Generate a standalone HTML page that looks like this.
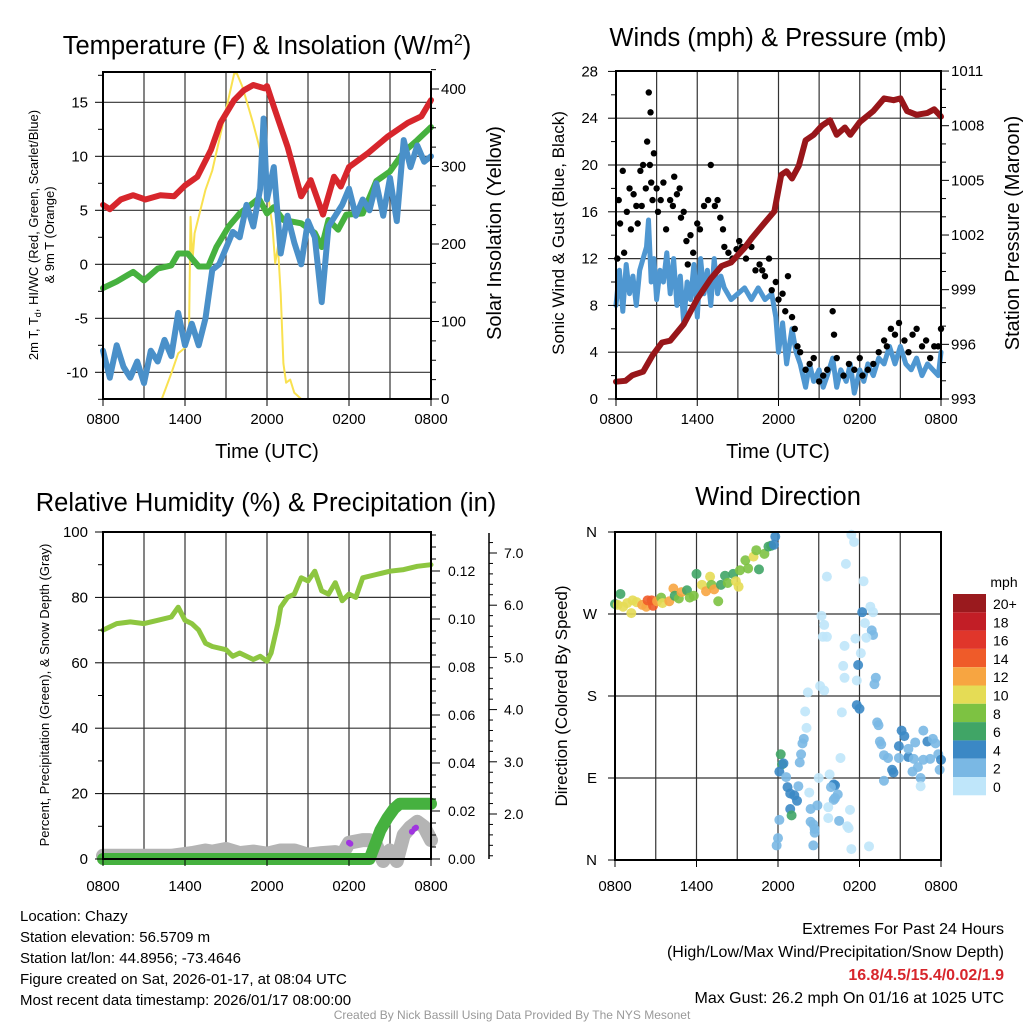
<!DOCTYPE html>
<html><head><meta charset="utf-8"><style>
html,body{margin:0;padding:0;background:#fff;}
svg{display:block;font-family:"Liberation Sans",Arial,sans-serif;}
</style></head><body>
<svg id="chart" width="1024" height="1024" viewBox="0 0 1024 1024" xmlns="http://www.w3.org/2000/svg"></svg>
<script>
// ===== Panel 1 data (hours since 0800 UTC) =====
const tempHours=[0,0.5,1.3,2.2,3.1,4.2,5.2,6,6.9,7.9,8.6,9.6,10.3,11,11.8,12,12.5,13.5,14.5,15.2,16.1,16.9,17.4,18,19.4,20.8,22.3,23.3,24];
const tempVals=[5.5,5.1,6.0,6.4,6.0,6.4,6.3,7.3,8.1,10.6,13.1,15.2,16.1,16.6,16.3,16.5,14.6,10.9,6.3,7.8,4.6,8.1,7.2,9.0,10.3,11.8,13.1,13.7,15.2];
const dewHours=[0,1,2.2,3,4,5,5.5,6.2,7,7.7,8.3,9.2,10,11.4,12,12.5,13.2,14.5,15.5,16,16.5,17.2,17.8,19,20,21,22,23,24];
const dewVals=[-2.2,-1.6,-0.7,-1.5,-0.4,-0.1,1.0,1.0,-0.2,-0.2,1.6,3.5,4.7,6.1,4.7,5.3,4.1,3.8,2.9,1.6,4.1,3.2,4.6,4.7,7.7,8.6,10.4,11.5,12.7];
const wcHours=[0,0.5,1,1.5,2,2.5,3,3.5,4,4.5,5,5.5,6,6.5,7,7.5,8,8.5,9,9.5,10,10.5,11,11.5,11.75,12,12.5,13,13.5,14,14.5,15,15.5,16,16.5,17,17.5,18,18.5,19,19.5,20,20.5,21,21.5,22,22.5,23,23.5,24];
const wcVals=[-8,-10.5,-7.5,-9.5,-10.5,-9,-11,-8,-9,-7,-8.5,-4.5,-7.5,-5.5,-7.5,-5,-0.5,0,1.5,3,2.5,5.5,3.5,7,13.5,6,9,1,4.5,2,0,4,2.5,-3.5,3.5,4.5,5.5,7,4.5,6,5,7.5,4.5,8,4,11.5,9,11,9.5,10];
const solHours=[0,4.3,5,5.5,6,6.3,6.4,6.55,6.7,7,7.5,8,8.5,9,9.6,9.8,10.2,11,11.5,12,12.4,12.6,12.8,13,13.2,13.4,13.7,14,14.5,24];
const solVals=[0,0,33,59,66,94,235,179,214,235,270,295,334,373,420,420,403,355,321,274,222,175,197,136,46,21,25,8,0,0];
const p1XTicks=["0800","1400","2000","0200","0800"];
const p1LeftTicks=[-10,-5,0,5,10,15];
const p1RightTicks=[0,100,200,300,400];
// ===== Panel 2 data =====
const presHours=[0,0.7,1.2,2,2.7,3.4,4,5,6,7,7.8,8.5,9,9.5,10,11,11.7,12.2,12.6,13,13.5,14,14.6,15.2,15.8,16.3,16.9,17.3,18,19,19.8,20.5,21,21.5,22.2,23,23.5,24];
const presVals=[993.95,994,994.3,994.5,995.4,996.1,996.2,997.1,998.5,999.6,1000.3,1000.5,1000.9,1001.3,1001.8,1002.7,1003.3,1005.3,1005.5,1005.1,1005.8,1007.2,1007.5,1008.0,1008.3,1007.5,1007.9,1007.5,1008.2,1008.8,1009.5,1009.4,1009.5,1008.8,1008.6,1008.7,1008.9,1008.5];
const windHours=[0,0.25,0.5,0.75,1,1.25,1.5,1.75,2,2.25,2.4,2.6,2.8,3,3.25,3.5,3.75,4,4.25,4.5,4.75,5,5.25,5.5,5.75,6,6.25,6.5,6.75,7,7.25,7.5,7.75,8,8.5,9,9.5,10,10.5,11,11.5,11.8,12,12.3,12.6,13,13.3,13.6,14,14.3,14.6,15,15.3,15.6,16,16.3,16.6,17,17.3,17.6,18,18.3,18.6,19,19.4,19.8,20.2,20.6,21,21.4,21.8,22.2,22.6,23,23.4,23.8,24];
const windVals=[8,11,7.5,11.5,9,10.5,8,11,12,13,15.3,10,12,8.5,11,10,12.5,9,12,8,10.5,6.5,10,8.5,11.5,7,12,9,11,8,12,9,10.5,9.5,8.5,9,9.5,8.5,9.5,8.5,9,7,4,6.5,3,6,4,3,1,3,1.5,2.5,1,2,3.5,1,2.5,1.5,3,0.5,2.5,1.5,3,2,3.5,3,4.5,3,4.5,3,2.5,3.5,2,3,2.5,2,4];
const gustHours=[0.1,0.2,0.3,0.5,0.6,0.8,1.0,1.1,1.3,1.5,1.6,1.8,1.9,2.0,2.2,2.3,2.42,2.5,2.55,2.6,2.7,2.8,3.0,3.1,3.3,3.5,3.7,4.0,4.2,4.3,4.5,4.7,4.8,5.0,5.2,5.3,5.5,5.7,6.0,6.2,6.5,6.8,7.0,7.3,7.5,7.7,7.9,8.0,8.3,8.6,8.9,9.1,9.3,9.6,10.0,10.3,10.6,10.8,11.0,11.3,11.5,11.8,12.0,12.3,12.5,12.7,13.0,13.2,13.4,13.6,14.0,14.3,14.6,15.0,15.3,15.6,16.0,16.1,16.3,16.8,17.2,17.6,18.0,18.2,18.6,19.0,19.4,19.8,20.0,20.3,20.6,20.9,21.3,21.6,21.9,22.2,22.6,22.9,23.2,23.5,23.8,24.0];
const gustVals=[12,17,15,19.5,12.5,16,18,14.5,17.5,16.5,15,19.5,16.5,20,18,22,26.2,20,24.5,18.5,17,21,18,16,17,18.5,14.5,17,16.5,19,17.5,18,15.5,16,13.5,11.5,14,12.5,15,14.5,16.5,17,20,16.5,17,15.5,14.5,13,12.5,12,12.8,13.5,13,12,13,11,11.5,11,10.5,12,9.3,10,8.5,9,7.5,10.5,7,6,4.5,4,2.5,3,3.5,1.5,2,2.5,7.5,5.5,3.5,2,3,2.5,3.5,2,2.5,3,4,5,4.5,6,5.5,6.5,5,4,5.5,6,4.5,5,3.5,4.5,4.5,6];
const p2LeftTicks=[0,4,8,12,16,20,24,28];
const p2RightTicks=[993,996,999,1002,1005,1008,1011];
// ===== Panel 3 data =====
const rhHours=[0,1,2,3,4,5,5.5,6,6.5,7,7.5,8,9,9.5,10,11,11.5,12,12.3,12.8,13,13.5,14,14.5,15,15.5,16,16.5,17,17.5,18,18.5,19,20,21,22,23,24];
const rhVals=[70,72,72.5,72,73,74,77,73,72,70,66,65,64,62,63,61,62,60.5,63,72,77,80,81,86,85,88,82,81,84.5,79,81,80,86,87,88,88.5,89.5,90];
const precipHours=[0,19.5,19.9,20.3,20.8,21.3,21.7,24];
const precipVals=[0,0,0.006,0.012,0.017,0.021,0.023,0.023];
const snowHours=[0,5,6.5,7.5,8,9,10,11,12,13,14,15,16,17,17.5,18,19,19.5,20,20.5,21,21.5,22,22.5,23,23.5,24];
const snowVals=[1.2,1.2,1.25,1.3,1.28,1.33,1.25,1.28,1.24,1.3,1.3,1.22,1.25,1.27,1.22,1.45,1.5,1.5,1.4,1.1,1.3,1.1,1.6,1.75,1.85,1.75,1.5];
const extraHours=[18,18.1,22.6,22.8,22.9];
const extraVals=[1.45,1.43,1.66,1.72,1.74];
const p3LeftTicks=[0,20,40,60,80,100];
const p3PrecipTicks=[0,0.02,0.04,0.06,0.08,0.10,0.12];
const p3SnowTicks=[2,3,4,5,6,7];
// ===== Panel 4 data =====
const dirHours=[0,0.4,0.2,0.6,0.9,1.2,1.3,1.6,2.0,2.3,2.4,2.7,2.8,3.1,3.4,3.5,4.0,4.3,4.4,4.7,4.9,5.3,5.5,5.8,6.0,6.4,6.7,7.0,7.1,7.3,7.6,7.8,8.1,8.3,8.7,8.9,9.1,9.2,9.6,9.8,10.2,10.4,10.6,11.0,11.3,11.5,11.8,11.7,
17.4,17.6,17.0,15.6,18.3,18.8,19.0,18.2,15.2,15.4,15.3,15.6,18.4,18.9,19.0,18.5,17.7,16.9,18.1,17.9,16.8,16.9,17.8,19.2,19.1,15.1,15.4,14.2,17.8,18.0,14.0,16.7,14.1,19.3,19.4,13.9,13.8,19.5,19.6,21.1,21.3,20.9,21.6,22.7,23.0,23.4,23.6,19.8,20.1,20.9,20.4,20.5,22.1,21.6,22.0,22.7,23.2,23.8,24.0,23.9,21.9,22.3,22.5,22.5,19.8,13.7,13.6,12.2,12.3,12.4,12.1,12.6,16.6,15.0,15.8,13.5,12.7,12.9,13.2,13.4,14.3,16.2,16.1,15.9,16.4,16.2,16.1,14.9,12.9,13.0,14.4,15.7,17.3,15.7,12.1,14.4,14.6,14.7,14.7,16.5,17.1,17.2,12.0,11.9,14.6,17.4,18.7];
const dirVals=[281,292,280,278,282,271,285,283,280,278,285,285,279,284,288,282,284,298,290,287,294,296,288,290,314,302,295,311,302,297,284,302,312,304,314,306,300,318,329,320,333,340,319,336,344,345,355,346,
357,349,325,311,306,278,272,272,268,258,245,245,260,252,247,244,243,235,227,214,213,200,197,200,193,191,186,184,170,166,163,162,145,151,148,133,128,130,127,142,136,125,113,142,130,133,128,115,112,112,99,96,129,122,111,110,111,116,110,99,97,102,90,81,87,116,107,116,105,106,97,91,112,90,94,81,80,73,71,65,74,82,83,80,72,68,66,60,56,49,56,58,55,46,44,42,39,34,30,43,37,35,24,16,16,12,15];
const dirSpeeds=[6,6,10,10,10,10,10,10,12,12,14,14,14,12,8,10,12,12,6,8,12,6,8,8,6,10,12,10,8,12,8,6,6,8,6,10,10,8,8,8,10,8,6,8,6,6,4,4,
0,0,0,0,0,0,0,3,0,0,0,0,0,2,2,0,0,0,0,4,0,0,0,2,2,0,0,0,3,3,0,0,0,2,2,2,2,2,2,4,3,4,4,2,3,2,2,2,2,2,4,4,2,2,2,2,2,2,4,2,2,2,2,0,2,2,2,6,6,4,4,2,0,0,0,2,4,3,3,3,0,4,3,2,2,2,2,2,4,6,2,0,0,0,2,2,2,2,2,2,0,0,2,2,2,0,0];
const speedLabels=["20+","18","16","14","12","10","8","6","4","2","0"];
const dirLabels=["N","E","S","W","N"];
</script>
<script>
const svg=document.getElementById('chart');
const NS='http://www.w3.org/2000/svg';
function mk(tag,attrs,parent){const e=document.createElementNS(NS,tag);for(const k in attrs)e.setAttribute(k,attrs[k]);(parent||svg).appendChild(e);return e;}
function txt(s,x,y,size,anchor,extra,parent){const t=mk('text',Object.assign({x:x,y:y,'font-size':size,'text-anchor':anchor||'middle',fill:'#000'},extra||{}),parent);t.textContent=s;return t;}
function path(xs,ys,fx,fy,attrs,parent){let d='';for(let i=0;i<xs.length;i++){d+=(i?'L':'M')+fx(xs[i]).toFixed(1)+','+fy(ys[i]).toFixed(1);}return mk('path',Object.assign({d:d,fill:'none','stroke-linejoin':'round','stroke-linecap':'round'},attrs),parent);}

function grid(g,x0,x1,y0,y1,xs,ys){
  xs.forEach(x=>{const l=mk('line',{x1:x,x2:x,y1:y0,y2:y1,stroke:'#333','stroke-width':1.2},g);});
  ys.forEach(y=>{const l=mk('line',{x1:x0,x2:x1,y1:y,y2:y,stroke:'#333','stroke-width':1.2},g);});
}
function frame(g,x0,x1,y0,y1){const r=mk('rect',{x:x0,y:y0,width:x1-x0,height:y1-y0,fill:'none',stroke:'#000','stroke-width':2},g);}

// ================= PANEL 1 =================
{
const g=mk('g',{});
const X0=103,X1=431,Y0=72,Y1=399;
const x=h=>X0+h*(X1-X0)/24, yT=v=>264.3-v*10.8, yS=v=>399-v*0.775;
const vx=[];for(let h=3;h<24;h+=3)vx.push(x(h));
grid(g,X0,X1,Y0,Y1,vx,p1LeftTicks.map(yT));
const sol=path(solHours,solVals,x,yS,{stroke:'#f9e150','stroke-width':2},g);
const dew=path(dewHours,dewVals,x,yT,{stroke:'#46b13f','stroke-width':6},g);
const wc=path(wcHours,wcVals,x,yT,{stroke:'#4a90c9','stroke-width':6},g);
const tl=path(tempHours,tempVals,x,yT,{stroke:'#d7262c','stroke-width':6},g);
frame(g,X0,X1,Y0,Y1);
for(let v=-12.5;v<=17.5;v+=2.5){const l=mk('line',{x1:X0-(v%5===0?8:5),x2:X0,y1:yT(v),y2:yT(v),stroke:'#000','stroke-width':1},g);}
p1LeftTicks.forEach(v=>{const t=txt(String(v),88,yT(v)+5,15,'end',{},g);});
for(let v=0;v<=425;v+=25){const l=mk('line',{x1:X1,x2:X1+(v%100===0?8:5),y1:yS(v),y2:yS(v),stroke:'#000','stroke-width':1},g);}
p1RightTicks.forEach(v=>{const t=txt(String(v),441,yS(v)+5,15,'start',{},g);});
p1XTicks.forEach((s,i)=>{const h=i*6;const l=mk('line',{x1:x(h),x2:x(h),y1:Y1,y2:Y1+7,stroke:'#000'},g);const t=txt(s,x(h),424,15,'middle',{},g);});
const ti=txt('',267,54,25.5,'middle',{},g);
ti.innerHTML='Temperature (F) &amp; Insolation (W/m<tspan dy="-9" font-size="16">2</tspan><tspan dy="9">)</tspan>';
const xl=txt('Time (UTC)',267,458,20,'middle',{},g);
const yl=txt('',0,0,13,'middle',{transform:'translate(38,235) rotate(-90)'},g);
yl.innerHTML='2m T, T<tspan dy="3" font-size="9">d</tspan><tspan dy="-3">, HI/WC (Red, Green, Scarlet/Blue)</tspan>';
const yl2=txt('& 9m T (Orange)',0,0,13,'middle',{transform:'translate(54,235) rotate(-90)'},g);
const yr=txt('Solar Insolation (Yellow)',0,0,20,'middle',{transform:'translate(501,233) rotate(-90)'},g);
}
// ================= PANEL 2 =================
{
const g=mk('g',{});
const X0=616,X1=941,Y0=71,Y1=399;
const x=h=>X0+h*(X1-X0)/24, yW=v=>399-v*11.7, yP=v=>399-(v-993)*18.22;
const vx=[];for(let h=3;h<24;h+=3)vx.push(x(h));
grid(g,X0,X1,Y0,Y1,vx,p2LeftTicks.map(yW));
const wl=path(windHours,windVals,x,yW,{stroke:'#4f97d1','stroke-width':5},g);
gustHours.forEach((h,i)=>{const c=mk('circle',{cx:x(h),cy:yW(gustVals[i]),r:3.2,fill:'#000'},g);});
const pl=path(presHours,presVals,x,yP,{stroke:'#98161a','stroke-width':6},g);
frame(g,X0,X1,Y0,Y1);
for(let v=0;v<=28;v+=2){const l=mk('line',{x1:X0-(v%4===0?8:5),x2:X0,y1:yW(v),y2:yW(v),stroke:'#000'},g);}
p2LeftTicks.forEach(v=>{const t=txt(String(v),598,yW(v)+5,15,'end',{},g);});
for(let v=993;v<=1011;v+=1){const l=mk('line',{x1:X1,x2:X1+(v%3===0?8:5),y1:yP(v),y2:yP(v),stroke:'#000'},g);}
p2RightTicks.forEach(v=>{const t=txt(String(v),951,yP(v)+5,15,'start',{},g);});
p1XTicks.forEach((s,i)=>{const h=i*6;const l=mk('line',{x1:x(h),x2:x(h),y1:Y1,y2:Y1+7,stroke:'#000'},g);const t=txt(s,x(h),424,15,'middle',{},g);});
const ti=txt('Winds (mph) & Pressure (mb)',778,46,25.5,'middle',{},g);
const xl=txt('Time (UTC)',778,458,20,'middle',{},g);
const yl=txt('Sonic Wind & Gust (Blue, Black)',0,0,17,'middle',{transform:'translate(564,233) rotate(-90)'},g);
const yr=txt('Station Pressure (Maroon)',0,0,20,'middle',{transform:'translate(1019,233) rotate(-90)'},g);
}
// ================= PANEL 3 =================
{
const g=mk('g',{});
const X0=103,X1=431,Y0=532,Y1=859;
const x=h=>X0+h*(X1-X0)/24, yR=v=>859-v*3.27, yPr=v=>859-v*2400, yS=v=>814-(v-2)*52.2;
const vx=[];for(let h=3;h<24;h+=3)vx.push(x(h));
grid(g,X0,X1,Y0,Y1,vx,p3LeftTicks.map(yR));
const sd=path(snowHours,snowVals,x,yS,{stroke:'#b4b4b4','stroke-width':14},g);
extraHours.forEach((h,i)=>{const c=mk('circle',{cx:x(h),cy:yS(extraVals[i]),r:3,fill:'#a035e0'},g);});
const pr=path(precipHours,precipVals,x,yPr,{stroke:'#46b13f','stroke-width':12},g);
const rh=path(rhHours,rhVals,x,yR,{stroke:'#8dc640','stroke-width':5},g);
frame(g,X0,X1,Y0,Y1);
for(let v=0;v<=100;v+=10){const l=mk('line',{x1:X0-(v%20===0?8:5),x2:X0,y1:yR(v),y2:yR(v),stroke:'#000'},g);}
p3LeftTicks.forEach(v=>{const t=txt(String(v),88,yR(v)+5,15,'end',{},g);});
for(let v=0;v<=0.1351;v+=0.005){const maj=Math.abs(v/0.02-Math.round(v/0.02))<1e-6;const l=mk('line',{x1:X1,x2:X1+(maj?9:5),y1:yPr(v),y2:yPr(v),stroke:'#000'},g);}
p3PrecipTicks.forEach(v=>{const t=txt(v.toFixed(2),448,yPr(v)+5,14,'start',{},g);});
const ax=mk('line',{x1:489,x2:489,y1:533,y2:859,stroke:'#000','stroke-width':1.5},g);
for(let v=1.2;v<=7.3;v+=0.2){const maj=Math.abs(v-Math.round(v))<1e-6;const l=mk('line',{x1:489,x2:489+(maj?8:4),y1:yS(v),y2:yS(v),stroke:'#000'},g);}
p3SnowTicks.forEach(v=>{const t=txt(v.toFixed(1),504,yS(v)+5,14,'start',{},g);});
p1XTicks.forEach((s,i)=>{const h=i*6;const l=mk('line',{x1:x(h),x2:x(h),y1:Y1,y2:Y1+7,stroke:'#000'},g);const t=txt(s,x(h),891,15,'middle',{},g);});
const ti=txt('Relative Humidity (%) & Precipitation (in)',266,511,25.5,'middle',{},g);
const yl=txt('Percent, Precipitation (Green), & Snow Depth (Gray)',0,0,13,'middle',{transform:'translate(49,695) rotate(-90)'},g);
}
// ================= PANEL 4 =================
{
const g=mk('g',{});
const X0=615,X1=941,Y0=532,Y1=860;
const x=h=>X0+h*(X1-X0)/24, yD=d=>Y1-d*(Y1-Y0)/360;
const colors=['#bfe6fa','#7ab8e4','#3b88c5','#40a566','#7dc242','#e5dc55','#f7a541','#ef5b29','#e0362b','#c21e26','#9a1a1e'];
const ci=s=>Math.min(10,Math.max(0,Math.round(s/2)));
const vx=[];for(let h=3;h<24;h+=3)vx.push(x(h));
grid(g,X0,X1,Y0,Y1,vx,[90,180,270].map(yD));
dirHours.forEach((h,i)=>{const c=mk('circle',{cx:x(h),cy:yD(dirVals[i]),r:5,fill:colors[ci(dirSpeeds[i])],'fill-opacity':0.9},g);});
frame(g,X0,X1,Y0,Y1);
[0,90,180,270,360].forEach((d,i)=>{const l=mk('line',{x1:X0-7,x2:X0,y1:yD(d),y2:yD(d),stroke:'#000'},g);const t=txt(dirLabels[i],597,yD(d)+5,15,'end',{},g);});
p1XTicks.forEach((s,i)=>{const h=i*6;const l=mk('line',{x1:x(h),x2:x(h),y1:Y1,y2:Y1+7,stroke:'#000'},g);const t=txt(s,x(h),891,15,'middle',{},g);});
const ti=txt('Wind Direction',778,505,25.5,'middle',{},g);
const yl=txt('Direction (Colored By Speed)',0,0,17,'middle',{transform:'translate(567,696) rotate(-90)'},g);
const lg=mk('g',{},g);
const mt=txt('mph',1004,587,14,'middle',{},lg);
speedLabels.forEach((s,i)=>{const y=594+i*18.3;const r=mk('rect',{x:953,y:y,width:33,height:18.3,fill:colors[10-i]},lg);const t=txt(s,993,y+15,14,'start',{},lg);});
}
// ================= FOOTER =================
{
const g=mk('g',{});
const left=['Location: Chazy','Station elevation: 56.5709 m','Station lat/lon: 44.8956; -73.4646','Figure created on Sat, 2026-01-17, at 08:04 UTC','Most recent data timestamp: 2026/01/17 08:00:00'];
left.forEach((s,i)=>{const t=txt(s,20,921+i*21,15,'start',{},g);});
const r1=txt('Extremes For Past 24 Hours',1004,934,16,'end',{},g);
const r2=txt('(High/Low/Max Wind/Precipitation/Snow Depth)',1004,957,16,'end',{},g);
const r3=txt('16.8/4.5/15.4/0.02/1.9',1004,980,16,'end',{fill:'#d7262c','font-weight':'bold'},g);
const r4=txt('Max Gust: 26.2 mph On 01/16 at 1025 UTC',1004,1003,16,'end',{},g);
const cr=txt('Created By Nick Bassill Using Data Provided By The NYS Mesonet',512,1019,12,'middle',{fill:'#999'},g);
}
</script>
</body></html>
